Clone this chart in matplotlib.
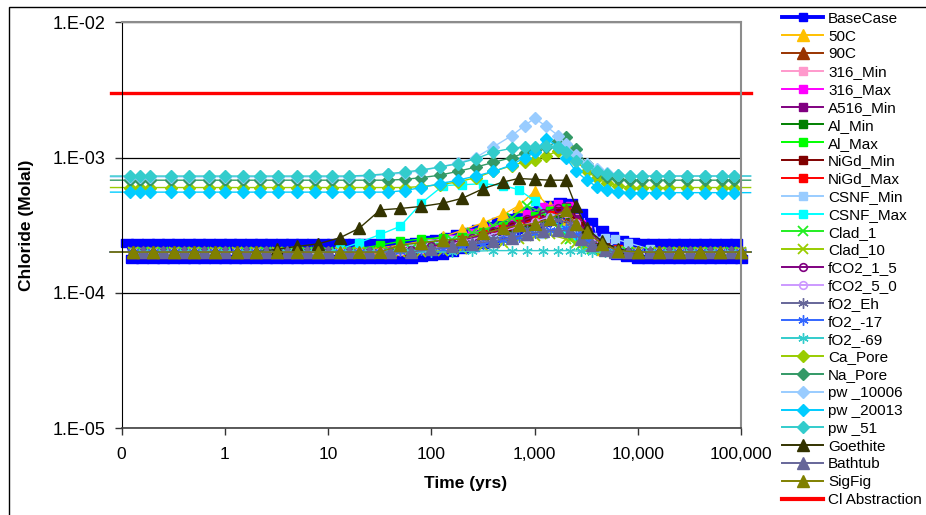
import numpy as np
import matplotlib.pyplot as plt
from matplotlib.lines import Line2D
from matplotlib.patches import Rectangle

plt.rcParams['font.family'] = ['Liberation Sans', 'DejaVu Sans']

# ---- time grids (yrs) ----
t_base = [0.112, 0.126, 0.141, 0.158, 0.178, 0.2, 0.224, 0.251, 0.282, 0.316, 0.355, 0.398, 0.447, 0.501, 0.562, 0.631, 0.708, 0.794, 0.891,
          1.0, 1.12, 1.26, 1.41, 1.58, 1.78, 2.0, 2.24, 2.51, 2.82, 3.16, 3.55, 3.98, 4.47, 5.01, 5.62, 6.31, 7.08, 7.94, 8.91,
          10, 11.2, 12.6, 14.1, 15.8, 17.8, 20, 22.4, 25.1, 28.2, 31.6, 35.5, 39.8, 44.7, 50.1, 56.2, 63.1, 70.8, 79.4, 89.1,
          100, 112, 126, 141, 158, 178, 200, 224, 251, 282, 316, 355, 398, 447, 501, 562, 631, 708, 794, 891,
          1000, 1120, 1260, 1410, 1580, 1780, 2000, 2240, 2510, 2820, 3160, 3550, 3980, 4470, 5010, 5620, 6310, 7080, 7940, 8910,
          10000, 11200, 12600, 14100, 15800, 17800, 20000, 22400, 25100, 28200, 31600, 35500, 39800, 44700, 50100, 56200, 63100,
          70800, 79400, 89100, 100000]
t_low_a = [0.078, 0.13, 0.2, 0.32, 0.5, 0.8, 1.3, 2, 3.2, 5, 8, 13, 20, 32, 50, 80, 130, 200, 320, 500, 700, 1000, 1400,
           2000, 2500, 3200, 4500, 6500, 10000, 16000, 25000, 40000, 63000, 100000, 124000]
t_low_b = [0.078, 0.16, 0.25, 0.4, 0.63, 1, 1.6, 2.5, 4, 6.3, 10, 16, 25, 40, 63, 100, 160, 250, 400, 600, 850, 1200, 1700,
           2200, 2800, 3600, 4800, 6000, 8000, 13000, 20000, 32000, 50000, 80000, 124000]
t_high = [0.078, 0.12, 0.15, 0.19, 0.3, 0.45, 0.7, 1, 1.5, 2.2, 3.3, 5, 7.5, 11, 16, 25, 38, 55, 80, 120, 180, 270, 400,
          600, 800, 1000, 1300, 1700, 2000, 2500, 3200, 4000, 5000, 6500, 8500, 11000, 15000, 20000, 30000, 45000, 65000,
          85000, 124000]

# ---- chloride (x 1e-4 molal) ----
base_case = [2.35, 1.77, 2.35, 1.77, 2.35, 1.77, 2.35, 1.77, 2.35, 1.77, 2.35, 1.77, 2.35, 1.77, 2.35, 1.77, 2.35, 1.77, 2.35,
             1.77, 2.35, 1.77, 2.35, 1.77, 2.35, 1.77, 2.35, 1.77, 2.35, 1.77, 2.35, 1.77, 2.35, 1.77, 2.35, 1.77, 2.35, 1.77, 2.35,
             1.77, 2.35, 1.77, 2.35, 1.77, 2.35, 1.77, 2.35, 1.77, 2.35, 1.77, 2.35, 1.77, 2.35, 1.77, 2.35, 1.79, 2.39, 1.83, 2.44,
             1.87, 2.51, 1.91, 2.59, 2.0, 2.7, 2.09, 2.82, 2.18, 2.96, 2.31, 3.13, 2.44, 3.34, 2.61, 3.57, 2.78, 3.8, 2.96, 4.03,
             3.13, 4.26, 3.31, 4.49, 3.48, 4.66, 3.57, 4.6, 3.22, 3.91, 2.7, 3.34, 2.35, 2.93, 2.09, 2.65, 1.91, 2.47, 1.83, 2.37,
             1.77, 2.35, 1.77, 2.35, 1.77, 2.35, 1.77, 2.35, 1.77, 2.35, 1.77, 2.35, 1.77, 2.35, 1.77, 2.35, 1.77, 2.35, 1.77, 2.35,
             1.77]

c_50c = [2.0, 2.0, 2.0, 2.0, 2.0, 2.0, 2.0, 2.0, 2.0, 2.0, 2.0, 2.0,
         2.08, 2.15, 2.25, 2.4, 2.6, 2.9, 3.3, 3.8, 4.4, 5.6, 4.3, 3.3, 2.7, 2.3, 2.1, 2.02,
         2.0, 2.0, 2.0, 2.0, 2.0, 2.0, 2.0]
c_90c = [2.0, 2.0, 2.0, 2.0, 2.0, 2.0, 2.0, 2.0, 2.0, 2.0, 2.0, 2.0, 2.0,
         2.0, 2.08, 2.2, 2.35, 2.6, 2.85, 3.15, 3.45, 3.75, 4.0, 3.7, 2.9, 2.4, 2.15, 2.05,
         2.0, 2.0, 2.0, 2.0, 2.0, 2.0, 2.0]
c_316_min = [2.0, 2.0, 2.0, 2.0, 2.0, 2.0, 2.0, 2.0, 2.0, 2.0, 2.0, 2.0,
             2.0, 2.0, 2.15, 2.35, 2.5, 2.6, 2.8, 3.0, 3.3, 3.6, 3.9, 4.2, 3.6, 2.9, 2.3, 2.05,
             2.0, 2.0, 2.0, 2.0, 2.0, 2.0, 2.0]
c_316_max = [2.0, 2.0, 2.0, 2.0, 2.0, 2.0, 2.0, 2.0, 2.0, 2.0, 2.0, 2.0, 2.0,
             2.05, 2.15, 2.3, 2.5, 2.75, 3.0, 3.35, 3.8, 4.3, 4.55, 4.4, 3.2, 2.6, 2.2, 2.05,
             2.0, 2.0, 2.0, 2.0, 2.0, 2.0, 2.0]
c_a516_min = [2.0, 2.0, 2.0, 2.0, 2.0, 2.0, 2.0, 2.0, 2.0, 2.0, 2.0, 2.0,
              2.0, 2.0, 2.05, 2.15, 2.3, 2.5, 2.75, 3.05, 3.35, 3.7, 4.0, 4.3, 3.5, 2.8, 2.3, 2.05,
              2.0, 2.0, 2.0, 2.0, 2.0, 2.0, 2.0]
c_al_min = [2.0, 2.0, 2.0, 2.0, 2.0, 2.0, 2.0, 2.0, 2.0, 2.0, 2.0, 2.0, 2.0,
            2.0, 2.05, 2.15, 2.3, 2.5, 2.75, 3.0, 3.3, 3.6, 3.9, 3.8, 3.0, 2.45, 2.15, 2.05,
            2.0, 2.0, 2.0, 2.0, 2.0, 2.0, 2.0]
c_al_max = [2.0, 2.0, 2.0, 2.0, 2.0, 2.0, 2.0, 2.0, 2.0, 2.0, 2.0, 2.05,
            2.12, 2.25, 2.4, 2.5, 2.55, 2.6, 2.8, 3.1, 3.4, 3.7, 4.0, 4.2, 3.2, 2.6, 2.15, 2.02,
            2.0, 2.0, 2.0, 2.0, 2.0, 2.0, 2.0]
c_nigd_min = [2.0, 2.0, 2.0, 2.0, 2.0, 2.0, 2.0, 2.0, 2.0, 2.0, 2.0, 2.0, 2.0,
              2.0, 2.05, 2.2, 2.35, 2.55, 2.8, 3.1, 3.4, 3.7, 4.05, 3.9, 3.1, 2.5, 2.2, 2.05,
              2.0, 2.0, 2.0, 2.0, 2.0, 2.0, 2.0]
c_nigd_max = [2.0, 2.0, 2.0, 2.0, 2.0, 2.0, 2.0, 2.0, 2.0, 2.0, 2.0, 2.0,
              2.0, 2.0, 2.05, 2.12, 2.25, 2.45, 2.7, 2.95, 3.2, 3.45, 3.75, 4.0, 3.3, 2.7, 2.3, 2.1,
              2.0, 2.0, 2.0, 2.0, 2.0, 2.0, 2.0]
c_csnf_min = [2.0, 2.0, 2.0, 2.0, 2.0, 2.0, 2.0, 2.0, 2.0, 2.0, 2.0, 2.0, 2.0,
              2.0, 2.15, 2.3, 2.45, 2.55, 2.6, 2.6, 2.65, 2.7, 2.8, 2.85, 2.7, 2.6, 2.55, 2.5,
              2.35, 2.1, 2.0, 2.0, 2.0, 2.0, 2.0]
c_csnf_max = [2.0, 2.0, 2.0, 2.0, 2.0, 2.0, 2.0, 2.0, 2.0, 2.0, 2.0, 2.1,
              2.35, 2.7, 3.1, 4.6, 6.2, 6.3, 6.4, 6.2, 5.8, 4.8, 3.6, 2.9, 2.6, 2.3, 2.1, 2.02,
              2.0, 2.0, 2.0, 2.0, 2.0, 2.0, 2.0]
c_clad_1 = [2.0, 2.0, 2.0, 2.0, 2.0, 2.0, 2.0, 2.0, 2.0, 2.0, 2.0, 2.0, 2.0,
            2.0, 2.12, 2.25, 2.45, 2.75, 3.1, 3.6, 4.4, 3.9, 3.0, 2.5, 2.25, 2.1, 2.03, 2.0,
            2.0, 2.0, 2.0, 2.0, 2.0, 2.0, 2.0]
c_clad_10 = [2.0, 2.0, 2.0, 2.0, 2.0, 2.0, 2.0, 2.0, 2.0, 2.0, 2.0, 2.0,
             2.0, 2.0, 2.0, 2.0, 2.05, 2.1, 2.2, 2.35, 2.5, 2.65, 2.7, 2.5, 2.35, 2.2, 2.08, 2.02,
             2.0, 2.0, 2.0, 2.0, 2.0, 2.0, 2.0]
c_fco2_1_5 = [2.0, 2.0, 2.0, 2.0, 2.0, 2.0, 2.0, 2.0, 2.0, 2.0, 2.0, 2.0, 2.0,
              2.0, 2.08, 2.2, 2.35, 2.55, 2.85, 3.15, 3.5, 3.9, 4.25, 4.1, 3.2, 2.5, 2.15, 2.03,
              2.0, 2.0, 2.0, 2.0, 2.0, 2.0, 2.0]
c_fco2_5_0 = [2.0, 2.0, 2.0, 2.0, 2.0, 2.0, 2.0, 2.0, 2.0, 2.0, 2.0, 2.0,
              2.0, 2.0, 2.03, 2.1, 2.2, 2.4, 2.6, 2.85, 3.1, 3.35, 3.65, 3.9, 3.3, 2.7, 2.25, 2.05,
              2.0, 2.0, 2.0, 2.0, 2.0, 2.0, 2.0]
c_fo2_eh = [2.0, 2.0, 2.0, 2.0, 2.0, 2.0, 2.0, 2.0, 2.0, 2.0, 2.0, 2.0, 2.0,
            2.0, 2.03, 2.1, 2.2, 2.35, 2.5, 2.7, 2.95, 3.2, 3.45, 3.3, 2.8, 2.35, 2.1, 2.02,
            2.0, 2.0, 2.0, 2.0, 2.0, 2.0, 2.0]
c_fo2_17 = [2.0, 2.0, 2.0, 2.0, 2.0, 2.0, 2.0, 2.0, 2.0, 2.0, 2.0, 2.0,
            2.0, 2.0, 2.02, 2.06, 2.12, 2.2, 2.3, 2.45, 2.6, 2.75, 2.9, 3.0, 2.7, 2.4, 2.15, 2.03,
            2.0, 2.0, 2.0, 2.0, 2.0, 2.0, 2.0]
c_fo2_69 = [2.0, 2.0, 2.0, 2.0, 2.0, 2.0, 2.0, 2.0, 2.0, 2.0, 2.0, 2.0, 2.0,
            2.0, 2.0, 2.0, 2.0, 2.03, 2.05, 2.05, 2.05, 2.05, 2.05, 2.05, 2.03, 2.0, 2.0, 2.0,
            2.0, 2.0, 2.0, 2.0, 2.0, 2.0, 2.0]
c_goethite = [2.0, 2.0, 2.0, 2.0, 2.0, 2.0, 2.0, 2.0, 2.1, 2.2, 2.3, 2.55,
              3.0, 4.1, 4.2, 4.35, 4.6, 5.0, 5.9, 6.6, 7.0, 6.9, 6.8, 6.8, 4.4, 3.0, 2.4, 2.1,
              2.0, 2.0, 2.0, 2.0, 2.0, 2.0, 2.0]
c_bathtub = [2.0, 2.0, 2.0, 2.0, 2.0, 2.0, 2.0, 2.0, 2.0, 2.0, 2.0, 2.0, 2.0,
             2.0, 2.0, 2.1, 2.2, 2.3, 2.42, 2.55, 2.7, 2.85, 2.9, 2.85, 2.5, 2.25, 2.08, 2.0,
             2.0, 2.0, 2.0, 2.0, 2.0, 2.0, 2.0]
c_sigfig = [2.0, 2.0, 2.0, 2.0, 2.0, 2.0, 2.0, 2.0, 2.0, 2.0, 2.0, 2.0,
            2.0, 2.0, 2.25, 2.35, 2.45, 2.5, 2.75, 3.0, 3.15, 3.25, 3.5, 4.1, 3.2, 2.8, 2.3, 2.05,
            2.0, 2.0, 2.0, 2.0, 2.0, 2.0, 2.0]

c_ca_pore = [6.0, 6.0, 6.0, 6.0, 6.0, 6.0, 6.0, 6.0, 6.0, 6.0, 6.0, 6.0, 6.0, 6.0,
             6.0, 6.0, 6.0, 6.0, 6.1, 6.3, 6.6, 7.1, 7.9, 8.7, 9.3, 9.6, 10.3, 11.2, 12.0, 9.5, 8.0, 7.0, 6.5, 6.2,
             6.0, 6.0, 6.0, 6.0, 6.0, 6.0, 6.0, 6.0, 6.0]
c_na_pore = [6.8, 6.8, 6.8, 6.8, 6.8, 6.8, 6.8, 6.8, 6.8, 6.8, 6.8, 6.8, 6.8, 6.8,
             6.8, 6.8, 6.8, 6.9, 7.1, 7.4, 7.9, 8.5, 9.2, 10.0, 10.8, 11.3, 12.0, 13.2, 14.2, 11.5, 9.0, 7.8, 7.2, 6.9,
             6.8, 6.8, 6.8, 6.8, 6.8, 6.8, 6.8, 6.8, 6.8]
c_pw_10006 = [7.2, 7.2, 7.2, 7.2, 7.2, 7.2, 7.2, 7.2, 7.2, 7.2, 7.2, 7.2, 7.2, 7.2,
              7.2, 7.3, 7.5, 7.7, 8.0, 8.5, 9.1, 10.0, 12.0, 14.5, 17.2, 19.5, 17.0, 14.5, 12.5, 10.5, 9.0, 8.2, 7.7, 7.4,
              7.3, 7.3, 7.3, 7.3, 7.3, 7.3, 7.3, 7.3, 7.3]
c_pw_20013 = [5.55, 5.55, 5.55, 5.55, 5.55, 5.55, 5.55, 5.55, 5.55, 5.55, 5.55, 5.55, 5.55, 5.55,
              5.55, 5.55, 5.55, 5.7, 6.0, 6.4, 6.8, 7.3, 7.9, 8.8, 10.0, 11.0, 13.8, 12.0, 10.0, 8.0, 6.8, 6.1, 5.8, 5.6,
              5.5, 5.5, 5.5, 5.5, 5.5, 5.5, 5.5, 5.5, 5.5]
c_pw_51 = [7.3, 7.3, 7.3, 7.3, 7.3, 7.3, 7.3, 7.3, 7.3, 7.3, 7.3, 7.3, 7.3, 7.3,
           7.3, 7.4, 7.6, 7.8, 8.1, 8.5, 9.0, 9.8, 11.0, 11.7, 12.0, 12.0, 12.2, 12.0, 11.0, 9.5, 8.6, 8.0, 7.6, 7.4,
           7.3, 7.3, 7.3, 7.3, 7.3, 7.3, 7.3, 7.3, 7.3]

cl_abstraction = 3.0e-3
cl_span = [0.078, 124000]

x_ticks = [0.1, 1, 10, 100, 1000, 10000, 100000]
x_labels = ['0', '1', '10', '100', '1,000', '10,000', '100,000']
y_ticks = [1e-5, 1e-4, 1e-3, 1e-2]
y_labels = ['1.E-05', '1.E-04', '1.E-03', '1.E-02']

ASTER = (6, 2, 0)
WIDE = [(-1, -0.6), (1, -0.6), (1, 0.6), (-1, 0.6), (-1, -0.6)]
# label, t, c, color, marker
series = [
    ('BaseCase', t_base, base_case, '#0000FF', 's'),
    ('50C', t_low_a, c_50c, '#FFC000', '^'),
    ('90C', t_low_b, c_90c, '#993300', '^'),
    ('316_Min', t_low_a, c_316_min, '#FF99CC', 's'),
    ('316_Max', t_low_b, c_316_max, '#FF00FF', 's'),
    ('A516_Min', t_low_a, c_a516_min, '#800080', 's'),
    ('Al_Min', t_low_b, c_al_min, '#008000', 's'),
    ('Al_Max', t_low_a, c_al_max, '#00FF00', 's'),
    ('NiGd_Min', t_low_b, c_nigd_min, '#800000', 's'),
    ('NiGd_Max', t_low_a, c_nigd_max, '#FF0000', 's'),
    ('CSNF_Min', t_low_b, c_csnf_min, '#99CCFF', 's'),
    ('CSNF_Max', t_low_a, c_csnf_max, '#00FFFF', 's'),
    ('Clad_1', t_low_b, c_clad_1, '#22EE22', 'x'),
    ('Clad_10', t_low_a, c_clad_10, '#99CC00', 'x'),
    ('fCO2_1_5', t_low_b, c_fco2_1_5, '#800080', 'o'),
    ('fCO2_5_0', t_low_a, c_fco2_5_0, '#CC99FF', 'o'),
    ('fO2_Eh', t_low_b, c_fo2_eh, '#666699', ASTER),
    ('fO2_-17', t_low_a, c_fo2_17, '#3366FF', ASTER),
    ('fO2_-69', t_low_b, c_fo2_69, '#33CCCC', ASTER),
    ('Ca_Pore', t_high, c_ca_pore, '#99CC00', 'D'),
    ('Na_Pore', t_high, c_na_pore, '#339966', 'D'),
    ('pw _10006', t_high, c_pw_10006, '#99CCFF', 'D'),
    ('pw _20013', t_high, c_pw_20013, '#00CCFF', 'D'),
    ('pw _51', t_high, c_pw_51, '#33CCCC', 'D'),
    ('Goethite', t_low_a, c_goethite, '#333300', '^'),
    ('Bathtub', t_low_b, c_bathtub, '#666699', '^'),
    ('SigFig', t_low_a, c_sigfig, '#808000', '^'),
]


def marker_kw(marker, color):
    if marker == 's':
        return dict(marker='s', ms=5.5, mfc=color, mec=color)
    if marker == '^':
        return dict(marker='^', ms=8, mfc=color, mec=color)
    if marker == 'D':
        return dict(marker='D', ms=6.5, mfc=color, mec=color)
    if marker == 'x':
        return dict(marker='x', ms=6.5, mec=color, mew=1.3)
    if marker == 'o':
        return dict(marker='o', ms=5.5, mfc='none', mec=color, mew=1.2)
    return dict(marker=marker, ms=7.5, mec=color, mew=1.0)


fig = plt.figure(figsize=(9.26, 5.15), dpi=100)
ax = fig.add_axes([0.1314, 0.1689, 0.6688, 0.7878])
ax.set_xscale('log')
ax.set_yscale('log')

handles = []
for label, t, c, color, marker in series:
    t = np.array(t)
    c = np.array(c) * 1e-4
    mk = marker_kw(marker, color)
    if label == 'BaseCase':
        # wide blocks in the plot, square in the legend like the original
        ax.plot(t, c, color=color, lw=2.2, clip_on=False, marker=WIDE, ms=8.5, mfc=color, mec=color)
        handles.append(Line2D([], [], color=color, lw=2.8, **mk))
    else:
        ax.plot(t, c, color=color, lw=1.0, clip_on=False)
        ax.plot(t[1:-1], c[1:-1], ls='none', clip_on=False, **mk)
        handles.append(Line2D([], [], color=color, lw=1.4, **mk))

ax.plot(cl_span, [cl_abstraction, cl_abstraction], color='#FF0000', lw=2.4, clip_on=False)
handles.append(Line2D([], [], color='#FF0000', lw=3))
labels = [s[0] for s in series] + ['Cl Abstraction']

ax.set_xlim(0.1, 1e5)
ax.set_ylim(1e-5, 1e-2)
ax.xaxis.set_minor_locator(plt.NullLocator())
ax.yaxis.set_minor_locator(plt.NullLocator())
ax.set_xticks(x_ticks)
ax.set_xticklabels(x_labels, fontsize=12.5)
ax.set_yticks(y_ticks)
ax.set_yticklabels(y_labels, fontsize=13)
ax.tick_params(axis='x', length=5, width=1, color='#333333', pad=9)
ax.tick_params(axis='y', length=5, width=1, color='#333333', pad=7)
ax.grid(axis='y', color='black', lw=0.9)
ax.set_axisbelow(True)

ax.spines['left'].set_color('black')
ax.spines['bottom'].set_color('#404040')
ax.spines['bottom'].set_linewidth(1.2)
for s in ('top', 'right'):
    ax.spines[s].set_color('#8c8c8c')
    ax.spines[s].set_linewidth(1.5)

ax.set_xlabel('Time (yrs)', fontsize=12.5, fontweight='bold')
ax.set_ylabel('Chloride (Molal)', fontsize=12.5, fontweight='bold')
ax.xaxis.set_label_coords(0.556, -0.118)
ax.yaxis.set_label_coords(-0.142, 0.5)

fig.legend(handles, labels, loc='upper left', bbox_to_anchor=(0.8445, 0.977),
           frameon=False, fontsize=11, borderpad=0, borderaxespad=0,
           handlelength=2.7, handletextpad=0.32, labelspacing=0.25)

fig.add_artist(Rectangle((0.0097, -0.1), 1.2, 1.0864, transform=fig.transFigure,
                         fill=False, ec='black', lw=1.0))

fig.savefig('out.png', dpi=100)
